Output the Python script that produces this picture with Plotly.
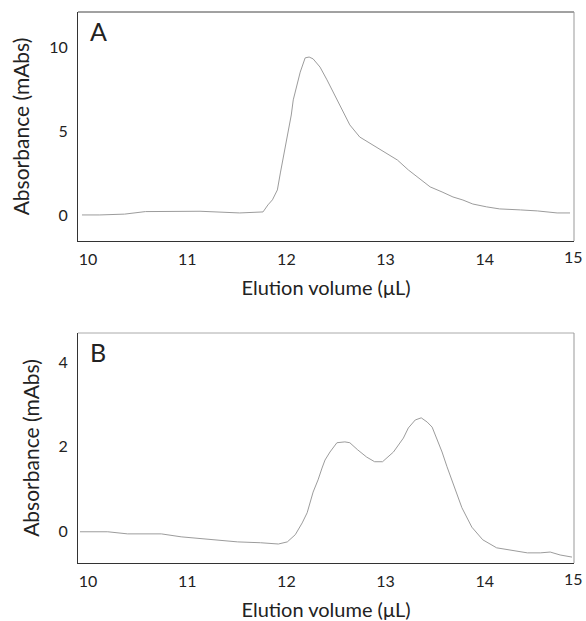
import plotly.graph_objects as go
from plotly.subplots import make_subplots

# Panel A: single asymmetric elution peak
vol_a = [10.04, 10.22, 10.47, 10.57, 10.68, 11.23, 11.63, 11.865, 11.915, 11.96,
         12.01, 12.04, 12.08, 12.11, 12.15, 12.17, 12.21, 12.24, 12.29, 12.33,
         12.37, 12.44, 12.51, 12.60, 12.66, 12.74, 12.84, 13.00, 13.13, 13.22,
         13.33, 13.43, 13.55, 13.67, 13.78, 13.88, 13.98, 14.12, 14.25, 14.46,
         14.63, 14.83, 14.96]
abs_a = [0.0, 0.0, 0.05, 0.12, 0.2, 0.22, 0.12, 0.18, 0.6, 0.9,
         1.49, 2.5, 3.75, 4.76, 5.95, 6.85, 7.86, 8.5, 9.35, 9.4,
         9.29, 8.8, 8.04, 6.96, 6.25, 5.36, 4.64, 4.05, 3.57, 3.27,
         2.68, 2.2, 1.67, 1.37, 1.07, 0.89, 0.65, 0.48, 0.36, 0.3,
         0.24, 0.12, 0.12]

# Panel B: two overlapping peaks
vol_b = [10.02, 10.30, 10.50, 10.84, 11.04, 11.31, 11.61, 11.84, 12.02, 12.11,
         12.19, 12.26, 12.31, 12.37, 12.42, 12.46, 12.49, 12.54, 12.61, 12.69,
         12.74, 12.82, 12.91, 12.99, 13.07, 13.18, 13.28, 13.33, 13.40, 13.46,
         13.52, 13.57, 13.62, 13.67, 13.72, 13.77, 13.82, 13.87, 13.97, 14.08,
         14.22, 14.35, 14.53, 14.66, 14.76, 14.86, 14.98]
abs_b = [-0.02, -0.02, -0.07, -0.07, -0.14, -0.19, -0.26, -0.28, -0.31, -0.26,
         -0.09, 0.19, 0.43, 0.92, 1.21, 1.49, 1.68, 1.87, 2.09, 2.11,
         2.09, 1.92, 1.75, 1.64, 1.64, 1.87, 2.20, 2.44, 2.63, 2.68,
         2.58, 2.46, 2.16, 1.87, 1.52, 1.21, 0.90, 0.55, 0.09, -0.21,
         -0.40, -0.45, -0.52, -0.52, -0.50, -0.57, -0.62]

x_ticks = [10, 11, 12, 13, 14, 15]
y_ticks_a = [0, 5, 10]
y_ticks_b = [0, 2, 4]
panel_labels = ["A", "B"]

FONT = "Lato"
TEXT = "#222222"
CURVE = "#9c9c9c"
TICK_SIZE = 16

fig = make_subplots(rows=2, cols=1, vertical_spacing=0.167)

fig.add_trace(go.Scatter(x=vol_a, y=abs_a, mode="lines",
                         line=dict(color=CURVE, width=1), showlegend=False),
              row=1, col=1)
fig.add_trace(go.Scatter(x=vol_b, y=abs_b, mode="lines",
                         line=dict(color=CURVE, width=1), showlegend=False),
              row=2, col=1)

# the last x label sits at the page edge, so it is placed separately below
xaxis_common = dict(range=[10, 15], tickvals=x_ticks[:-1], ticks="", showgrid=False,
                    zeroline=False, showline=True, linecolor="#333333", linewidth=1,
                    tickfont=dict(family=FONT, size=TICK_SIZE, color=TEXT),
                    ticklabelshift=10, ticklabelstandoff=4,
                    automargin=False,
                    title=dict(text="Elution volume (μL)", standoff=13,
                               font=dict(family=FONT, size=20, color=TEXT)))
yaxis_common = dict(ticks="", showgrid=False, zeroline=False, showline=True,
                    linecolor="#333333", linewidth=1, automargin=False,
                    tickfont=dict(family=FONT, size=TICK_SIZE, color=TEXT),
                    ticklabelstandoff=6,
                    title=dict(text="Absorbance (mAbs)", standoff=13,
                               font=dict(family=FONT, size=21, color=TEXT)))

fig.update_xaxes(**xaxis_common)
fig.update_yaxes(**yaxis_common)
fig.update_yaxes(range=[-1.55, 12.08], tickvals=y_ticks_a, row=1, col=1)
fig.update_yaxes(range=[-0.76, 4.69], tickvals=y_ticks_b, row=2, col=1)

fig.update_layout(
    xaxis=dict(domain=[0, 1]),
    yaxis=dict(domain=[0.5844, 1.0]),
    xaxis2=dict(domain=[0, 1]),
    yaxis2=dict(domain=[0.0, 0.4174]),
)

# top and right frame edges
frame = [("x", "y", "#444444", "#999999"), ("x2", "y2", "#aaaaaa", "#999999")]
for xr, yr, top_col, right_col in frame:
    fig.add_shape(type="line", xref=f"{xr} domain", yref=f"{yr} domain",
                  x0=0, x1=1, y0=1, y1=1, line=dict(color=top_col, width=1))
    fig.add_shape(type="line", xref=f"{xr} domain", yref=f"{yr} domain",
                  x0=1, x1=1, y0=0, y1=1, line=dict(color=right_col, width=1))

for lbl, xr, yr in zip(panel_labels, ["x", "x2"], ["y", "y2"]):
    fig.add_annotation(text=lbl, xref=f"{xr} domain", yref=f"{yr} domain",
                       x=0.02, y=0.99, xanchor="left", yanchor="top",
                       showarrow=False,
                       font=dict(family=FONT, size=25, color=TEXT))
    # end-of-axis label, kept inside the page
    fig.add_annotation(text=str(x_ticks[-1]), xref=xr, yref=f"{yr} domain",
                       x=x_ticks[-1], y=0, xanchor="right", yanchor="top",
                       xshift=11, yshift=-4, showarrow=False,
                       font=dict(family=FONT, size=TICK_SIZE, color=TEXT))

fig.update_layout(
    width=586, height=621,
    margin=dict(l=78, r=12, t=12, b=58),
    paper_bgcolor="white", plot_bgcolor="white",
    font=dict(family=FONT, color=TEXT),
)

fig.write_html("out.html")
